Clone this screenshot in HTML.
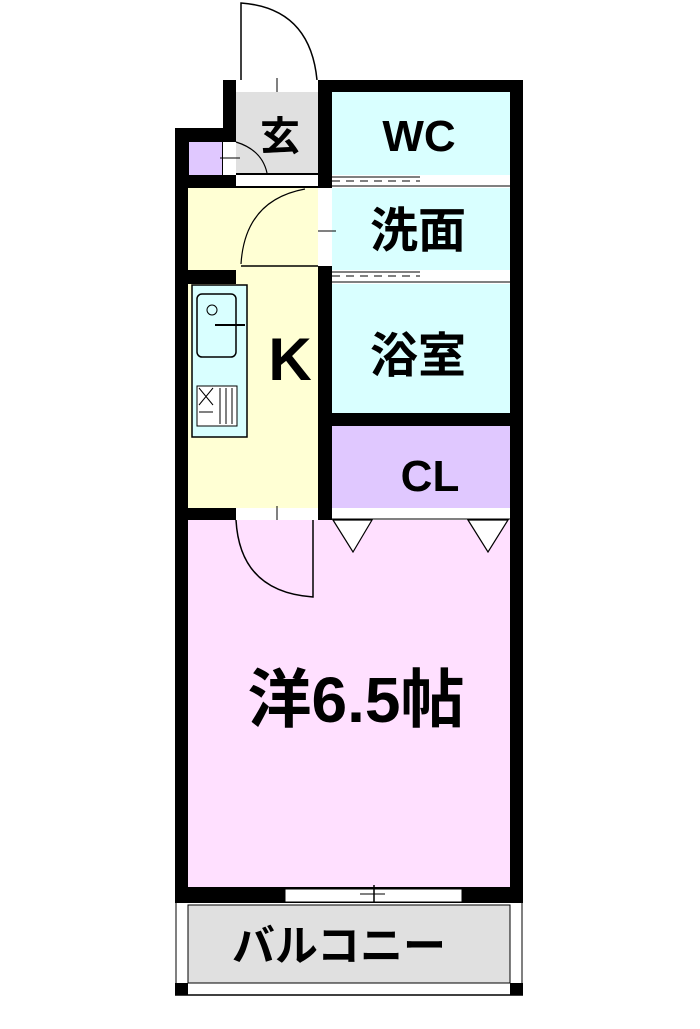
<!DOCTYPE html>
<html><head><meta charset="utf-8"><style>
html,body{margin:0;padding:0;background:#fff;}
svg{display:block;}
text{font-family:"Liberation Sans","Noto Sans CJK JP",sans-serif;fill:#000;}
</style></head><body>
<svg width="700" height="1029" viewBox="0 0 700 1029" xmlns="http://www.w3.org/2000/svg">
<path d="M241 80 V3 Q310 8 317 80" fill="none" stroke="#000" stroke-width="1.5"/>
<rect x="223" y="80" width="300" height="440" fill="#000"/>
<rect x="175" y="128" width="61" height="392" fill="#000"/>
<rect x="175" y="508" width="348" height="395" fill="#000"/>
<rect x="236" y="80" width="82" height="12" fill="#fff"/>
<line x1="277" y1="78" x2="277" y2="96" stroke="#000"/>
<rect x="236" y="92" width="82" height="81" fill="#e0e0e0"/>
<rect x="236" y="175" width="82" height="11" fill="#fff"/>
<rect x="189" y="142" width="33" height="33" fill="#e0c8ff"/>
<rect x="223" y="142" width="13" height="33" fill="#fff"/>
<line x1="220" y1="158" x2="240" y2="158" stroke="#000"/>
<path d="M236 142 Q262 150 267 173" fill="none" stroke="#000" stroke-width="1.2"/>
<text x="280" y="150" font-size="40" text-anchor="middle" font-weight="bold">玄</text>
<rect x="332" y="92" width="178" height="83" fill="#d9ffff"/>
<rect x="332" y="175" width="178" height="13" fill="#fff"/>
<line x1="332" y1="177" x2="420" y2="177" stroke="#000"/>
<line x1="332" y1="181" x2="420" y2="181" stroke="#000" stroke-dasharray="8,6"/>
<line x1="332" y1="186" x2="510" y2="186" stroke="#000"/>
<text x="419" y="151" font-size="44" text-anchor="middle" font-weight="bold">WC</text>
<rect x="332" y="188" width="178" height="82" fill="#d9ffff"/>
<rect x="332" y="270" width="178" height="14" fill="#fff"/>
<line x1="332" y1="272" x2="420" y2="272" stroke="#000"/>
<line x1="332" y1="276" x2="420" y2="276" stroke="#000" stroke-dasharray="8,6"/>
<line x1="332" y1="282" x2="510" y2="282" stroke="#000"/>
<text x="418" y="247" font-size="48" text-anchor="middle" font-weight="bold">洗面</text>
<rect x="318" y="188" width="14" height="78" fill="#fff"/>
<line x1="316" y1="231" x2="336" y2="231" stroke="#000"/>
<rect x="332" y="284" width="178" height="129" fill="#d9ffff"/>
<text x="418" y="372" font-size="48" text-anchor="middle" font-weight="bold">浴室</text>
<rect x="332" y="426" width="178" height="82" fill="#e0c8ff"/>
<text x="430" y="491" font-size="44" text-anchor="middle" font-weight="bold">CL</text>
<rect x="332" y="508" width="178" height="12" fill="#fff"/>
<line x1="332" y1="519" x2="510" y2="519" stroke="#000"/>
<rect x="188" y="188" width="130" height="320" fill="#ffffd4"/>
<rect x="188" y="270" width="48" height="14" fill="#000"/>
<path d="M241 264 Q245 200 305 189" fill="none" stroke="#000" stroke-width="1.2"/>
<line x1="241" y1="266" x2="318" y2="266" stroke="#000" stroke-width="1.5"/>
<rect x="192" y="285" width="55" height="152" fill="#d9ffff" stroke="#000" stroke-width="1.5"/>
<rect x="197" y="294" width="39" height="63" rx="5" fill="none" stroke="#000" stroke-width="1.5"/>
<circle cx="212" cy="310" r="5" fill="none" stroke="#000"/>
<line x1="215" y1="325" x2="245" y2="325" stroke="#000" stroke-width="2"/>
<rect x="197" y="386" width="40" height="40" fill="#fff" stroke="#000"/>
<path d="M199 388 L213 405 M213 388 L199 405 M220 388 V424 M226 388 V424 M232 388 V424 M199 412 H213" stroke="#000"/>
<text x="290" y="380" font-size="60" text-anchor="middle" font-weight="bold">K</text>
<rect x="236" y="508" width="82" height="12" fill="#fff"/>
<line x1="277" y1="506" x2="277" y2="525" stroke="#000"/>
<rect x="188" y="520" width="322" height="367" fill="#ffe0ff"/>
<path d="M236 520 Q240 592 313 597 V520" fill="none" stroke="#000" stroke-width="1.5"/>
<path d="M333 520 L353 552 L372 520 Z" fill="#fff" stroke="#000" stroke-width="1.2"/>
<path d="M468 520 L488 552 L508 520 Z" fill="#fff" stroke="#000" stroke-width="1.2"/>
<text x="356" y="722" font-size="64" text-anchor="middle" font-weight="bold">洋6.5帖</text>
<rect x="285" y="889" width="177" height="13" fill="#fff" stroke="#000"/>
<line x1="360" y1="894" x2="385" y2="894" stroke="#000"/>
<line x1="374" y1="885" x2="374" y2="908" stroke="#000" stroke-width="1.5"/>
<rect x="175" y="903" width="348" height="92" fill="#fff"/>
<rect x="188" y="905" width="322" height="78" fill="#e0e0e0" stroke="#000"/>
<rect x="175" y="983" width="13" height="12" fill="#000"/>
<rect x="510" y="983" width="13" height="12" fill="#000"/>
<line x1="175" y1="995" x2="523" y2="995" stroke="#000" stroke-width="1.5"/>
<line x1="176" y1="903" x2="176" y2="995" stroke="#000"/>
<line x1="522" y1="903" x2="522" y2="995" stroke="#000"/>
<text x="339" y="961" font-size="43" text-anchor="middle" font-weight="bold">バルコニー</text>
</svg>
</body></html>
